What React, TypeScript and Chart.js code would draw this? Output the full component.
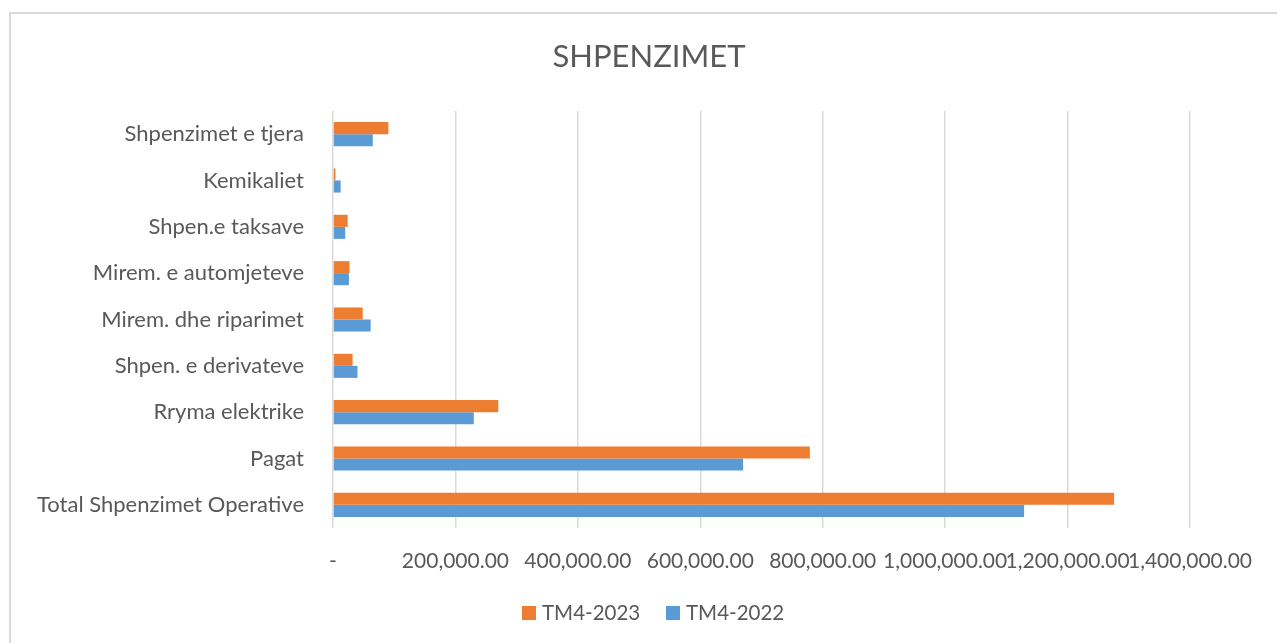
import React, { useEffect, useRef } from "react";
import { Chart, registerables } from "chart.js";

Chart.register(...registerables);

const categories = [
  "Shpenzimet e tjera",
  "Kemikaliet",
  "Shpen.e taksave",
  "Mirem. e automjeteve",
  "Mirem. dhe riparimet",
  "Shpen. e derivateve",
  "Rryma elektrike",
  "Pagat",
  "Total Shpenzimet Operative",
];
const series2023 = [90500, 4000, 24000, 27000, 48500, 32000, 270000, 779000, 1276000];
const series2022 = [65000, 12500, 20000, 26000, 61500, 40000, 230000, 670000, 1129000];
const seriesNames = ["TM4-2023", "TM4-2022"];
const seriesColors = ["#ED7D31", "#5B9BD5"];
const titleText = "SHPENZIMET";
const xMax = 1400000;
const xStep = 200000;

const FONT = "Lato, 'Noto Sans', sans-serif";
const TEXT = "#595959";

const overlayPlugin = {
  id: "overlayText",
  afterDraw(chart: any) {
    const ctx = chart.ctx;
    ctx.save();
    ctx.fillStyle = TEXT;
    ctx.font = `31px ${FONT}`;
    ctx.textAlign = "center";
    ctx.textBaseline = "middle";
    ctx.fillText(titleText, 649, 57);
    // legend
    ctx.font = `20.5px ${FONT}`;
    ctx.textAlign = "left";
    const items = [
      { x: 522, name: seriesNames[0], color: seriesColors[0] },
      { x: 666, name: seriesNames[1], color: seriesColors[1] },
    ];
    items.forEach((it) => {
      ctx.fillStyle = it.color;
      ctx.fillRect(it.x, 606, 14, 14);
      ctx.fillStyle = TEXT;
      ctx.fillText(it.name, it.x + 20, 613);
    });
    ctx.restore();
  },
};

export default function App() {
  const ref = useRef<HTMLCanvasElement>(null);
  useEffect(() => {
    const chart = new Chart(ref.current!, {
      type: "bar",
      data: {
        labels: categories,
        datasets: [
          { label: seriesNames[0], data: series2023, backgroundColor: seriesColors[0] },
          { label: seriesNames[1], data: series2022, backgroundColor: seriesColors[1] },
        ],
      },
      options: {
        indexAxis: "y",
        animation: false,
        responsive: false,
        maintainAspectRatio: false,
        layout: { padding: { top: 111, right: 87, bottom: 55, left: 0 } },
        datasets: { bar: { categoryPercentage: 0.52, barPercentage: 1 } },
        plugins: {
          legend: { display: false },
          title: { display: false },
          tooltip: { enabled: false },
        },
        scales: {
          x: {
            min: 0,
            max: xMax,
            ticks: {
              stepSize: xStep,
              autoSkip: false,
              maxRotation: 0,
              minRotation: 0,
              padding: 21,
              color: TEXT,
              font: { family: FONT, size: 21 },
              callback: (v: any) =>
                Number(v) === 0
                  ? "-"
                  : Number(v).toLocaleString("en-US", { minimumFractionDigits: 2, maximumFractionDigits: 2 }),
            },
            grid: { color: "#D9D9D9", lineWidth: 1.5, drawTicks: false },
            border: { display: false },
            afterFit: (s: any) => {
              s.height = 60;
            },
          },
          y: {
            ticks: {
              padding: 29,
              color: TEXT,
              font: { family: FONT, size: 22 },
              autoSkip: false,
            },
            grid: { display: false, drawTicks: false },
            border: { display: false },
            afterFit: (s: any) => {
              s.width = 333;
            },
          },
        },
      },
      plugins: [overlayPlugin],
    } as any);
    return () => chart.destroy();
  }, []);

  return (
    <div style={{ position: "absolute", left: 0, top: 0, width: 1277, height: 643, background: "#fff" }}>
      <div
        style={{
          position: "absolute",
          left: 9,
          top: 12,
          right: 0,
          bottom: 0,
          borderLeft: "2px solid #D9D9D9",
          borderTop: "2px solid #D9D9D9",
        }}
      />
      <canvas ref={ref} width={1277} height={643} style={{ position: "absolute", left: 0, top: 0 }} />
    </div>
  );
}
